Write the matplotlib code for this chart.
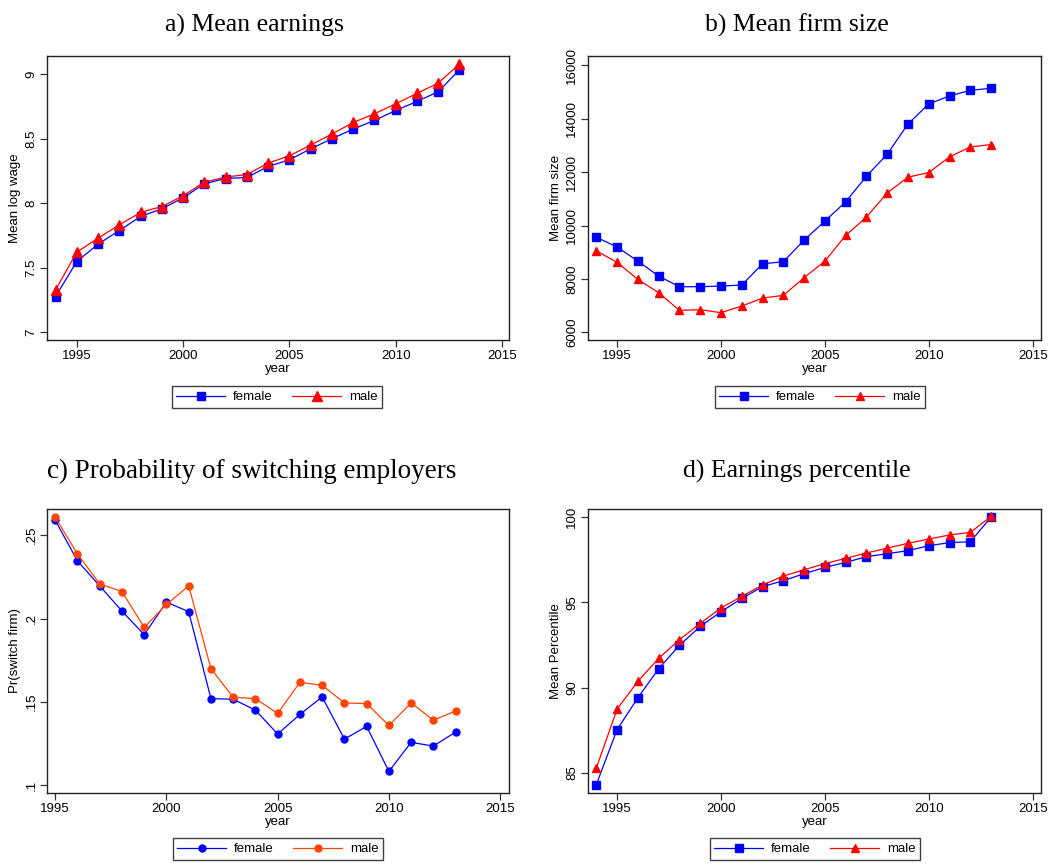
import matplotlib
matplotlib.use("Agg")
import matplotlib.pyplot as plt
from matplotlib.ticker import FixedLocator, FixedFormatter

plt.rcParams['font.family'] = ['Liberation Sans', 'DejaVu Sans']

years = list(range(1994, 2014))
years_c = list(range(1995, 2014))

# a) Mean earnings (mean log wage)
wage_female = [7.276, 7.548, 7.682, 7.788, 7.897, 7.956, 8.041, 8.150, 8.191, 8.199,
               8.284, 8.336, 8.421, 8.499, 8.574, 8.641, 8.718, 8.788, 8.863, 9.034]
wage_male = [7.328, 7.620, 7.729, 7.832, 7.928, 7.974, 8.057, 8.163, 8.202, 8.222,
             8.310, 8.367, 8.450, 8.535, 8.625, 8.692, 8.770, 8.850, 8.930, 9.078]

# b) Mean firm size
size_female = [9566, 9192, 8668, 8107, 7708, 7708, 7733, 7770, 8568, 8643,
               9454, 10165, 10888, 11848, 12671, 13805, 14554, 14853, 15065, 15140]
size_male = [9055, 8618, 7982, 7483, 6823, 6848, 6735, 6985, 7284, 7384,
             8045, 8668, 9628, 10314, 11224, 11810, 11985, 12571, 12945, 13032]

# c) Probability of switching employers (1995-2013)
switch_female = [0.2590, 0.2346, 0.2196, 0.2045, 0.1903, 0.2099, 0.2041, 0.1519, 0.1515, 0.1450,
                 0.1306, 0.1424, 0.1529, 0.1276, 0.1352, 0.1082, 0.1256, 0.1234, 0.1318]
switch_male = [0.2608, 0.2388, 0.2208, 0.2162, 0.1947, 0.2085, 0.2196, 0.1699, 0.1527, 0.1519,
               0.1430, 0.1617, 0.1599, 0.1493, 0.1489, 0.1358, 0.1493, 0.1390, 0.1444]

# d) Earnings percentile
pct_female = [84.32, 87.54, 89.41, 91.11, 92.48, 93.59, 94.45, 95.23, 95.92, 96.27,
              96.68, 97.05, 97.34, 97.68, 97.85, 98.03, 98.32, 98.50, 98.55, 100.0]
pct_male = [85.29, 88.75, 90.37, 91.72, 92.81, 93.77, 94.67, 95.35, 96.02, 96.54,
            96.91, 97.27, 97.58, 97.89, 98.18, 98.46, 98.71, 98.95, 99.10, 100.04]

titles = ["a) Mean earnings", "b) Mean firm size",
          "c) Probability of switching employers", "d) Earnings percentile"]
ylabels = ["Mean log wage", "Mean firm size", "Pr(switch firm)", "Mean Percentile"]
series_labels = ["female", "male"]
xticks = [1995, 2000, 2005, 2010, 2015]

W, H = 1064, 865
fig = plt.figure(figsize=(W / 100, H / 100), dpi=100)


def px_axes(l, t, r, b):
    return fig.add_axes([l / W, 1 - b / H, (r - l) / W, (b - t) / H])


def style(ax, yticks, yticklabels, ylabel):
    for s in ax.spines.values():
        s.set_color('#222222')
        s.set_linewidth(1.0)
    ax.set_xticks(xticks)
    ax.set_xticklabels([str(x) for x in xticks], fontsize=9.5)
    ax.yaxis.set_major_locator(FixedLocator(yticks))
    ax.yaxis.set_major_formatter(FixedFormatter(yticklabels))
    for lab in ax.get_yticklabels():
        lab.set_rotation(90)
        lab.set_va('center')
        lab.set_fontsize(9.5)
    ax.tick_params(direction='out', length=5, width=0.9, color='#333333', pad=2)
    ax.set_xlabel("year", fontsize=9.5, labelpad=1)
    ax.set_ylabel(ylabel, fontsize=9.5, labelpad=3)


def add_legend(ax, handles, cx, cy):
    leg = ax.legend(handles=handles, labels=series_labels, loc='center',
                    bbox_to_anchor=(cx / W, 1 - cy / H), bbox_transform=fig.transFigure,
                    ncol=2, frameon=True, fancybox=False, fontsize=9.5,
                    handlelength=3.7, columnspacing=1.5, handletextpad=0.6,
                    borderpad=0.35, borderaxespad=0)
    leg.get_frame().set_edgecolor('#111111')
    leg.get_frame().set_linewidth(1.0)


# Panel a
axa = px_axes(47, 56, 509, 340)
h1, = axa.plot(years, wage_female, color='#0000FF', lw=0.9, marker='s', ms=6, mec='#0000FF')
h2, = axa.plot(years, wage_male, color='#FF0000', lw=0.9, marker='^', ms=6.5, mec='#FF0000')
axa.set_xlim(1993.6, 2015.33)
axa.set_ylim(6.94, 9.14)
style(axa, [7, 7.5, 8, 8.5, 9], ["7", "7.5", "8", "8.5", "9"], ylabels[0])
add_legend(axa, [h1, h2], 277, 397)

# Panel b
axb = px_axes(588, 56, 1041, 340)
h1, = axb.plot(years, size_female, color='#0000FF', lw=0.9, marker='s', ms=6, mec='#0000FF')
h2, = axb.plot(years, size_male, color='#FF0000', lw=0.9, marker='^', ms=6, mec='#FF0000')
axb.set_xlim(1993.6, 2015.4)
axb.set_ylim(5713, 16349)
style(axb, [6000, 8000, 10000, 12000, 14000, 16000],
      ["6000", "8000", "10000", "12000", "14000", "16000"], ylabels[1])
add_legend(axb, [h1, h2], 820, 397)

# Panel c
axc = px_axes(47, 509, 509, 793)
h1, = axc.plot(years_c, switch_female, color='#0000FF', lw=0.9, marker='o', ms=5, mec='#0000FF')
h2, = axc.plot(years_c, switch_male, color='#FF4500', lw=0.9, marker='o', ms=5, mec='#FF4500')
axc.set_xlim(1994.63, 2015.4)
axc.set_ylim(0.0952, 0.2658)
style(axc, [0.1, 0.15, 0.2, 0.25], [".1", ".15", ".2", ".25"], ylabels[2])
add_legend(axc, [h1, h2], 278, 849)

# Panel d
axd = px_axes(588, 509, 1041, 793)
h1, = axd.plot(years, pct_female, color='#0000FF', lw=0.9, marker='s', ms=6, mec='#0000FF')
h2, = axd.plot(years, pct_male, color='#FF0000', lw=0.9, marker='^', ms=6, mec='#FF0000')
axd.set_xlim(1993.6, 2015.4)
axd.set_ylim(83.83, 100.47)
style(axd, [85, 90, 95, 100], ["85", "90", "95", "100"], ylabels[3])
add_legend(axd, [h1, h2], 815, 849)

# Titles (serif)
for txt, cx, by, fs in [(titles[0], 254, 32, 18.5), (titles[1], 797, 32, 18.5),
                        (titles[2], 252, 478, 19.5), (titles[3], 797, 478, 18.5)]:
    fig.text(cx / W, 1 - by / H, txt, ha='center', va='baseline',
             fontsize=fs, family=['Liberation Serif', 'DejaVu Serif'])

fig.savefig("out.png", dpi=100)
